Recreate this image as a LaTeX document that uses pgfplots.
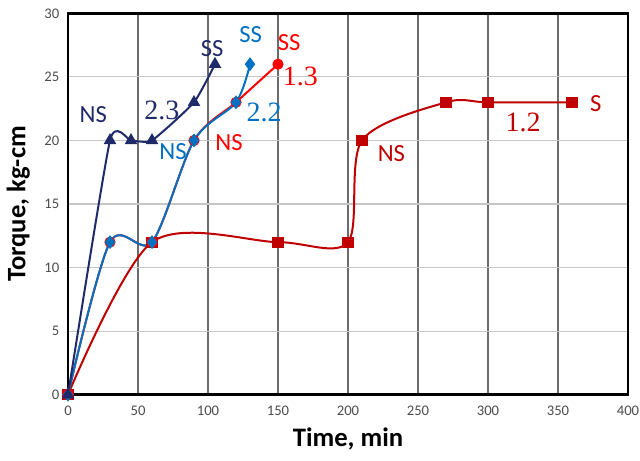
\documentclass[border=0pt]{standalone}
\usepackage{pgfplots}
\pgfplotsset{compat=1.18}
\usepackage{fontspec}
\setmainfont{Carlito}
\newfontfamily\tnr{Liberation Serif}
\definecolor{navy}{HTML}{1F2A6B}
\definecolor{eblue}{HTML}{0070C0}
\definecolor{ered}{HTML}{FF0000}
\definecolor{dred}{HTML}{C00000}
\begin{document}
\begin{tikzpicture}
\begin{axis}[
  name=ax,
  scale only axis,
  width=420pt, height=286pt,
  xmin=0, xmax=400, ymin=0, ymax=30,
  xtick={0,50,...,400}, ytick={0,5,...,30},
  major tick length=0pt,
  grid=major,
  x grid style={gray!85!black, line width=0.8pt},
  y grid style={gray!45, line width=0.8pt},
  axis line style={line width=1.8pt},
  tick label style={font=\fontsize{11}{12}\selectfont, /pgf/number format/assume math mode=true, text=black!70},
  xticklabel style={yshift=-5pt},
  yticklabel style={xshift=-3pt},
  xlabel={Time, min},
  ylabel={Torque, kg-cm},
  label style={font=\fontsize{20}{22}\selectfont\bfseries},
  xlabel style={yshift=-2pt},
  ylabel style={yshift=4pt},
  every axis plot/.append style={line width=1.5pt, smooth, tension=0.5},
  clip=false,
]
% 1.2
\addplot[dred, mark=square*, mark size=3.4pt] coordinates {
 (0,0) (60,12) (150,12) (200,12) (210,20) (270,23) (300,23) (360,23)};
% 1.3
\addplot[ered, mark=*, mark size=3.4pt] coordinates {
 (0,0) (30,12) (60,12) (90,20) (120,23) (150,26)};
% 2.2
\addplot[eblue, mark=diamond*, mark size=4pt] coordinates {
 (0,0) (30,12) (60,12) (90,20) (120,23) (130,26)};
% 2.3
\addplot[navy, mark=triangle*, mark size=4pt, tension=0.3] coordinates {
 (0,0) (30,20) (45,20) (60,20) (90,23) (105,26)};

\begin{scope}[every node/.style={font=\fontsize{18.5}{20}\selectfont}]
\node[navy] at (axis cs:18,22) {NS};
\node[navy] at (axis cs:103,27.2) {SS};
\node[eblue] at (axis cs:75,19.1) {NS};
\node[eblue] at (axis cs:130.5,28.3) {SS};
\node[ered] at (axis cs:158,27.7) {SS};
\node[ered] at (axis cs:115,19.8) {NS};
\node[dred] at (axis cs:231,19) {NS};
\node[dred] at (axis cs:377,22.9) {S};
\end{scope}
\begin{scope}[every node/.style={font=\tnr\fontsize{21}{22}\selectfont}]
\node[navy] at (axis cs:67,22.4) {2.3};
\node[eblue] at (axis cs:140,22.2) {2.2};
\node[ered] at (axis cs:166,25) {1.3};
\node[dred] at (axis cs:325,21.4) {1.2};
\end{scope}
\end{axis}
\pgfresetboundingbox
\path ([shift={(-51pt,-49.5pt)}]ax.south west) rectangle ([shift={(9pt,10pt)}]ax.north east);
\end{tikzpicture}
\end{document}
